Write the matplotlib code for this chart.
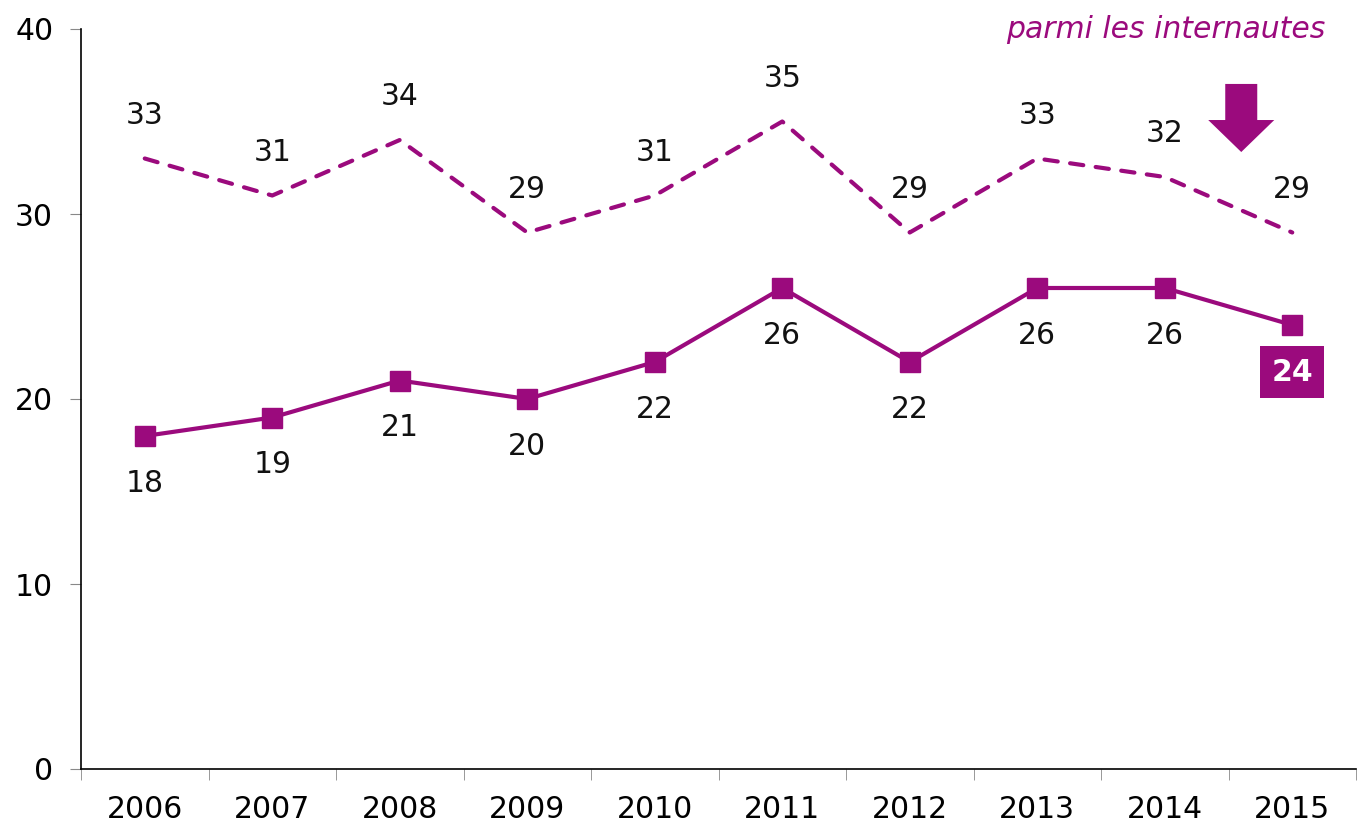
import matplotlib
matplotlib.use("Agg")
import matplotlib.pyplot as plt
from matplotlib.patches import Polygon

years = ["2006", "2007", "2008", "2009", "2010", "2011", "2012", "2013", "2014", "2015"]
internautes = [33, 31, 34, 29, 31, 35, 29, 33, 32, 29]
ensemble = [18, 19, 21, 20, 22, 26, 22, 26, 26, 24]
yticks = [0, 10, 20, 30, 40]
note = "parmi les internautes"

purple = "#9B0A7D"
plt.rcParams['font.family'] = ['DejaVu Sans']
FS = 21.5

fig = plt.figure(figsize=(13.57, 8.25), dpi=100)
ax = fig.add_axes([81/1357, 1 - 769/825, (1356-81)/1357, (769-29)/825])

x = list(range(len(years)))
ax.plot(x, internautes, color=purple, lw=3, ls=(0, (3.2, 3.0)), dash_capstyle='round')
ax.plot(x, ensemble, color=purple, lw=3, marker='s', markersize=14)

for i, v in enumerate(internautes):
    ax.annotate(str(v), (i, v), xytext=(0, 31), textcoords='offset points',
                ha='center', va='center', fontsize=FS, color='#111111')
for i, v in enumerate(ensemble):
    if i == len(ensemble) - 1:
        ax.annotate(str(v), (i, v), xytext=(0, -34), textcoords='offset points',
                    ha='center', va='center', fontsize=FS, color='white', fontweight='bold',
                    bbox=dict(boxstyle='square,pad=0.38', fc=purple, ec='none'))
    else:
        ax.annotate(str(v), (i, v), xytext=(0, -34), textcoords='offset points',
                    ha='center', va='center', fontsize=FS, color='#111111')

# arrow
cx = 8.6
sw, hw = 0.1255, 0.259
ytop, yhead, ytip = 37.03, 35.08, 33.35
arrow = Polygon([(cx - sw, ytop), (cx + sw, ytop), (cx + sw, yhead), (cx + hw, yhead),
                 (cx, ytip), (cx - hw, yhead), (cx - sw, yhead)],
                closed=True, fc=purple, ec='none', clip_on=False)
ax.add_patch(arrow)

ax.text(1325/1357, 1 - 30/825, note, transform=fig.transFigure, ha='right', va='center',
        fontsize=FS, style='italic', color=purple)

ax.set_xlim(-0.5, len(years) - 0.5)
ax.set_ylim(0, 40)
ax.set_yticks(yticks)
ax.set_yticklabels([str(t) for t in yticks])
ax.set_xticks(x)
ax.set_xticklabels(years)
ax.set_xticks([i - 0.5 for i in range(len(years) + 1)], minor=True)
ax.tick_params(axis='x', which='major', length=0, pad=19, labelsize=FS)
ax.tick_params(axis='x', which='minor', length=8, color='#888888', direction='out')
ax.tick_params(axis='y', length=8, color='#888888', direction='out', labelsize=FS, pad=12)
for s in ['top', 'right']:
    ax.spines[s].set_visible(False)
ax.spines['left'].set_color('black')
ax.spines['bottom'].set_color('black')
ax.spines['left'].set_linewidth(1.2)
ax.spines['bottom'].set_linewidth(1.2)

fig.savefig("out.png", dpi=100)
